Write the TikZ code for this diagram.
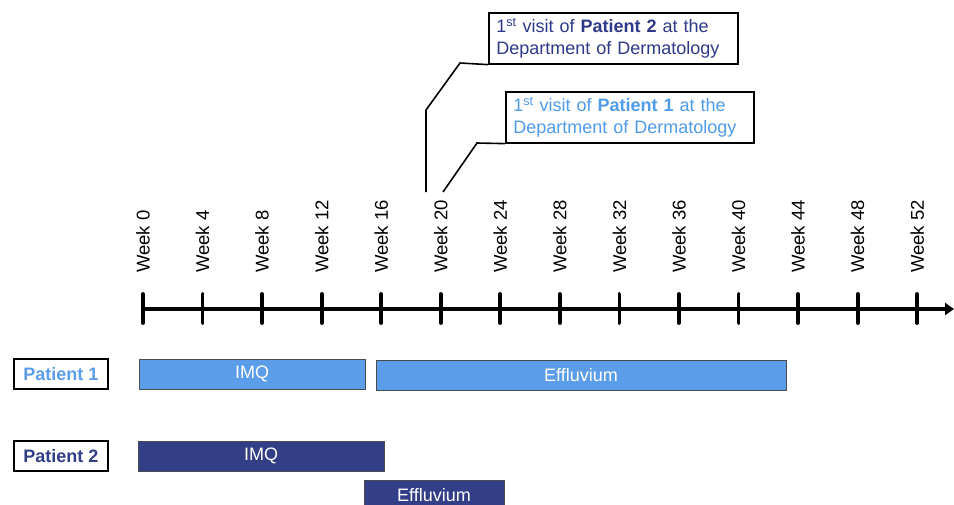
\documentclass[tikz,border=0pt]{standalone}
\usepackage{fontspec}
\setmainfont{Liberation Sans}
\usetikzlibrary{arrows.meta}
\definecolor{lblue}{RGB}{91,157,232}
\definecolor{dblue}{RGB}{50,63,135}
\definecolor{tlblue}{RGB}{79,155,234}
\definecolor{tdblue}{RGB}{46,58,135}
\begin{document}
\begin{tikzpicture}[x=1pt,y=-1pt,
  every node/.style={font=\fontsize{18}{21}\selectfont},
  wk/.style={rotate=90,anchor=west,inner sep=0pt,font=\fontsize{18.5}{21}\selectfont},
  bar/.style={draw=black!70,line width=0.7pt,anchor=north west,minimum height=30pt,inner sep=0pt,outer sep=0pt,text=white},
  barL/.style={bar,fill=lblue},
  barD/.style={bar,fill=dblue},
  pbox/.style={draw=black,line width=1.6pt,anchor=north west,minimum width=94pt,minimum height=30pt,inner sep=0pt,fill=white,font=\fontsize{18}{21}\selectfont\bfseries},
  callout/.style={draw=black,line width=1.6pt,anchor=north west,inner sep=0pt,fill=white,minimum height=51pt,align=left,font=\fontsize{18}{22}\selectfont},
  lead/.style={line width=1.6pt},
  tick/.style={line width=3.8pt,line cap=round}
]
\useasboundingbox (0,0) rectangle (954,504);

% axis
\coordinate (a0) at (143,309);
\coordinate (aend) at (954,309);
\draw[line width=3.8pt,-{Triangle[length=9pt,width=12pt]}] (a0) -- (aend);
\foreach \i in {0,...,13}{
  \pgfmathsetmacro{\xx}{143+59.55*\i}
  \pgfmathtruncatemacro{\w}{4*\i}
  \coordinate (t\i) at (\xx,309);
  \draw[tick] (\xx,294) -- (\xx,323);
  \node[wk] (w\i) at (\xx,273) {Week \w};
}

% patient labels
\node[pbox,text=lblue] (p1) at (13,358) {Patient 1};
\node[pbox,text=dblue] (p2) at (13,440) {Patient 2};

% bars
\node[barL,minimum width=226pt] (p1imq) at (139,359) {IMQ};
\node[barL,minimum width=410pt] (p1eff) at (376,360) {Effluvium};
\node[barD,minimum width=246pt] (p2imq) at (138,441) {IMQ};
\node[barD,minimum width=140pt] (p2eff) at (364,480) {Effluvium};

% callouts
\node[callout,text=tdblue,minimum width=249pt,text width=244pt] (c2) at (488,12)
  {\hspace*{5pt}1\textsuperscript{st} visit of \textbf{Patient 2} at the\\\hspace*{5pt}Department of Dermatology};
\node[callout,text=tlblue,minimum width=248pt,text width=243pt] (c1) at (505,91)
  {\hspace*{5pt}1\textsuperscript{st} visit of \textbf{Patient 1} at the\\\hspace*{5pt}Department of Dermatology};

\coordinate (v2) at (426,192);
\coordinate (v1) at (443,192);
\draw[lead] (v2) -- (426,110) -- (460,63) -- (c2.south west);
\draw[lead] (v1) -- (477,143) -- (c1.south west);
\end{tikzpicture}
\end{document}
